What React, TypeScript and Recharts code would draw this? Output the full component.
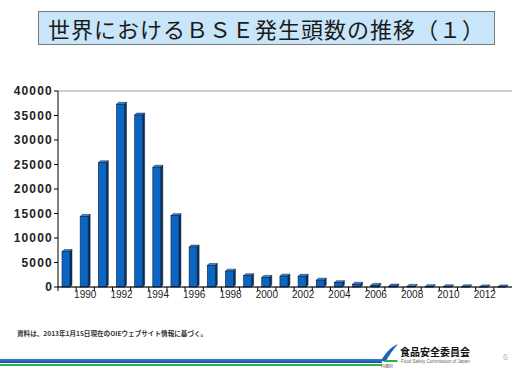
import React from 'react';
import { BarChart, Bar, XAxis, YAxis, CartesianGrid } from 'recharts';

const years = [
  1989, 1990, 1991, 1992, 1993, 1994, 1995, 1996, 1997, 1998, 1999, 2000, 2001,
  2002, 2003, 2004, 2005, 2006, 2007, 2008, 2009, 2010, 2011, 2012, 2013,
];
const cases = [
  7228, 14407, 25359, 37280, 35090, 24438, 14562, 8149, 4393, 3235, 2301, 1960,
  2215, 2179, 1389, 878, 561, 329, 179, 125, 70, 45, 29, 21, 7,
];
const yTicks = [0, 5000, 10000, 15000, 20000, 25000, 30000, 35000, 40000];

const data = years.map((y, i) => ({ year: y, cases: cases[i] }));

const JP = '"Noto Sans CJK JP", "Noto Sans", sans-serif';
const SANS = '"Liberation Sans", Arial, sans-serif';

function Bar3D(props: any) {
  const { x, y, width, height } = props;
  const d = 2;
  const fw = width - d;
  const h = Math.max(height, 0);
  return (
    <g>
      <polygon
        points={`${x},${y} ${x + d},${y - d} ${x + fw + d},${y - d} ${x + fw},${y}`}
        fill="#3d86d4"
        stroke="#0b1f3d"
        strokeWidth={0.5}
      />
      <polygon
        points={`${x + fw},${y} ${x + fw + d},${y - d} ${x + fw + d},${y + h - d} ${x + fw},${y + h}`}
        fill="#0b3160"
        stroke="#0b1f3d"
        strokeWidth={0.5}
      />
      <rect x={x} y={y} width={fw} height={h} fill="#0a66c2" stroke="#0b1f3d" strokeWidth={0.6} />
    </g>
  );
}

function YearTick(props: any) {
  const { x, y, payload } = props;
  const off = payload.offset || 9.1;
  const show = payload.value % 2 === 0;
  return (
    <g>
      <line x1={x - off} y1={y} x2={x - off} y2={y + 4} stroke="#000" strokeWidth={1} />
      {show && (
        <text x={x} y={y + 11} textAnchor="middle" fontSize={10} fill="#222" fontFamily={SANS}>
          {payload.value}
        </text>
      )}
    </g>
  );
}

export default function App() {
  return (
    <div style={{ position: 'absolute', left: 0, top: 0, width: 520, height: 373, background: '#fff', overflow: 'hidden' }}>
      <div
        style={{
          position: 'absolute',
          left: 38,
          top: 11,
          width: 446,
          height: 32,
          background: '#c8e5fa',
          border: '1px solid #7a7a7a',
          fontFamily: JP,
          fontSize: 22,
          lineHeight: '32px',
          color: '#1a1a1a',
          paddingLeft: 9,
          boxSizing: 'content-box',
          whiteSpace: 'nowrap',
          letterSpacing: 1,
        }}
      >
        世界におけるＢＳＥ発生頭数の推移（１）
      </div>

      <div style={{ position: 'absolute', left: 0, top: 0 }}>
        <BarChart
          width={520}
          height={373}
          data={data}
          margin={{ top: 91, right: 8, bottom: 56, left: 0 }}
          barCategoryGap={0}
        >
          <CartesianGrid vertical={false} stroke="#a0a0a0" strokeWidth={1} />
          <XAxis
            dataKey="year"
            interval={0}
            height={30}
            tickSize={0}
            tickMargin={0}
            tickLine={false}
            axisLine={{ stroke: '#000', strokeWidth: 1 }}
            tick={<YearTick />}
          />
          <YAxis
            yAxisId="l"
            width={58}
            domain={[0, 40000]}
            ticks={yTicks}
            interval={0}
            tickSize={4}
            tickMargin={1}
            axisLine={{ stroke: '#000', strokeWidth: 1 }}
            tickLine={{ stroke: '#000' }}
            tick={{ fontSize: 12, fontWeight: 700, fill: '#222', fontFamily: SANS, letterSpacing: 1.2 }}
          />
          <YAxis
            yAxisId="r"
            orientation="right"
            width={0}
            domain={[0, 40000]}
            tick={false}
            tickLine={false}
            axisLine={{ stroke: '#8a8a8a', strokeWidth: 1 }}
          />
          <Bar yAxisId="l" dataKey="cases" barSize={10} shape={<Bar3D />} isAnimationActive={false} />
        </BarChart>
      </div>

      <div
        style={{
          position: 'absolute',
          left: 17,
          top: 328,
          fontFamily: JP,
          fontSize: 6.6,
          fontWeight: 700,
          color: '#333',
          whiteSpace: 'nowrap',
        }}
      >
        資料は、2013年1月15日現在のOIEウェブサイト情報に基づく。
      </div>

      <div style={{ position: 'absolute', left: 0, top: 359, width: 382, height: 4, background: 'linear-gradient(#3a80d0, #1550a0)' }} />
      <div style={{ position: 'absolute', left: 0, top: 364, width: 382, height: 2, background: '#2bb24c' }} />

      <svg style={{ position: 'absolute', left: 380, top: 343 }} width={20} height={20}>
        <path d="M1 18 C 5 10, 11 4, 18 1 C 13 7, 9 12, 6 18 Z" fill="#1b63c0" />
        <path d="M3 19 L 18 19 L 17 17 L 5 17 Z" fill="#2bb24c" />
      </svg>

      <div
        style={{
          position: 'absolute',
          left: 400,
          top: 346,
          fontFamily: JP,
          fontSize: 10,
          fontWeight: 700,
          color: '#111',
          whiteSpace: 'nowrap',
          lineHeight: '12px',
        }}
      >
        食品安全委員会
      </div>
      <div
        style={{
          position: 'absolute',
          left: 401,
          top: 359,
          fontFamily: SANS,
          fontSize: 4.5,
          color: '#666',
          whiteSpace: 'nowrap',
          lineHeight: '6px',
        }}
      >
        Food Safety Commission of Japan
      </div>
      <div
        style={{
          position: 'absolute',
          left: 381,
          top: 364,
          fontFamily: JP,
          fontSize: 4,
          color: '#666',
          whiteSpace: 'nowrap',
          lineHeight: '5px',
        }}
      >
        内閣府
      </div>
      <div
        style={{
          position: 'absolute',
          left: 503,
          top: 352,
          fontFamily: SANS,
          fontSize: 9,
          color: '#bbb',
        }}
      >
        6
      </div>
    </div>
  );
}
